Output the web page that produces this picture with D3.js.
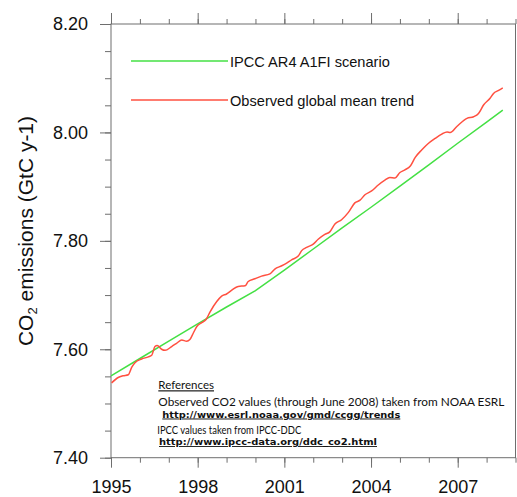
<!DOCTYPE html>
<html>
<head>
<meta charset="utf-8">
<script src="https://cdn.jsdelivr.net/npm/d3@7"></script>
<style>
  html, body { margin: 0; padding: 0; background: #fff; }
  svg { display: block; }
</style>
</head>
<body>
<svg id="chart" width="517" height="497"></svg>
<script>
// ---- data ----
const scenarioYears  = [1995, 1996, 1997, 1998, 1999, 2000, 2001, 2002, 2003, 2004, 2005, 2006, 2007, 2008, 2008.56];
const scenarioValues = [7.551, 7.583, 7.615, 7.647, 7.678, 7.708, 7.746, 7.785, 7.824, 7.862, 7.901, 7.940, 7.980, 8.019, 8.041];

const observedYears = [
  1995.02, 1995.25, 1995.42, 1995.60, 1995.72, 1995.83, 1996.06, 1996.29, 1996.41, 1996.52,
  1996.60, 1996.75, 1996.87, 1997.10, 1997.27, 1997.45, 1997.62, 1997.73, 1997.85, 1997.97,
  1998.14, 1998.29, 1998.43, 1998.66, 1998.83, 1999.00, 1999.18, 1999.40, 1999.64, 1999.75,
  1999.98, 2000.21, 2000.50, 2000.67, 2000.91, 2001.08, 2001.25, 2001.48, 2001.60, 2001.77,
  2002.00, 2002.17, 2002.40, 2002.58, 2002.75, 2002.98, 2003.21, 2003.44, 2003.62, 2003.79,
  2004.02, 2004.25, 2004.48, 2004.65, 2004.83, 2005.00, 2005.17, 2005.36, 2005.53, 2005.76,
  2005.99, 2006.22, 2006.45, 2006.63, 2006.74, 2006.97, 2007.32, 2007.55, 2007.72, 2007.90,
  2008.12, 2008.24, 2008.40, 2008.56
];
const observedValues = [
  7.538, 7.548, 7.551, 7.553, 7.567, 7.575, 7.582, 7.586, 7.589, 7.605,
  7.607, 7.600, 7.598, 7.605, 7.611, 7.617, 7.615, 7.618, 7.630, 7.642,
  7.649, 7.655, 7.669, 7.688, 7.698, 7.702, 7.709, 7.716, 7.717, 7.725,
  7.730, 7.735, 7.739, 7.748, 7.754, 7.759, 7.765, 7.772, 7.782, 7.788,
  7.794, 7.803, 7.812, 7.817, 7.831, 7.839, 7.852, 7.870, 7.875, 7.885,
  7.892, 7.903, 7.912, 7.917, 7.916, 7.926, 7.931, 7.938, 7.954, 7.968,
  7.980, 7.989, 7.997, 8.001, 8.000, 8.011, 8.026, 8.029, 8.035, 8.051,
  8.063, 8.072, 8.077, 8.082
];

const xMajorTicks = [1995, 1998, 2001, 2004, 2007];
const xTickLabels = ["1995", "1998", "2001", "2004", "2007"];
const yMajorTicks = [7.40, 7.60, 7.80, 8.00, 8.20];
const yTickLabels = ["7.40", "7.60", "7.80", "8.00", "8.20"];

const legendLabels = ["IPCC AR4 A1FI scenario", "Observed global mean trend"];
const referenceLines = [
  "References",
  "Observed CO2 values (through June 2008) taken from NOAA ESRL",
  "http://www.esrl.noaa.gov/gmd/ccgg/trends",
  "IPCC values taken from IPCC-DDC",
  "http://www.ipcc-data.org/ddc_co2.html"
];

// ---- layout ----
const svg = d3.select("#chart");
const L = 111, R = 515.5, T = 24, B = 457.7;
const x = d3.scaleLinear().domain([1995, 2009]).range([L, R]);
const y = d3.scaleLinear().domain([7.40, 8.20]).range([B, T]);

svg.append("rect").attr("width", 517).attr("height", 497).attr("fill", "#fff");

const axisColor = "#6e6e6e";
const labelFont = "'Liberation Sans', Arial, Helvetica, sans-serif";

const xMinor = d3.range(1995, 2009.01, 1);
const yMinor = d3.range(7.40, 8.2001, 0.05);

function styleAxis(g) {
  g.select(".domain").remove();
  g.selectAll(".tick line").attr("stroke", axisColor).attr("stroke-width", 1);
}

// bottom axis
svg.append("g").attr("transform", `translate(0,${B})`)
  .call(d3.axisBottom(x).tickValues(xMinor).tickSize(5).tickFormat(""))
  .call(styleAxis);
svg.append("g").attr("transform", `translate(0,${B})`)
  .call(d3.axisBottom(x).tickValues(xMajorTicks).tickSize(10).tickPadding(12.5)
        .tickFormat((d, i) => xTickLabels[i]))
  .call(styleAxis)
  .call(g => g.selectAll("text").attr("font-family", labelFont).attr("font-size", 18).attr("fill", "#111"));
// top axis
svg.append("g").attr("transform", `translate(0,${T})`)
  .call(d3.axisTop(x).tickValues(xMinor).tickSize(5).tickFormat(""))
  .call(styleAxis);
svg.append("g").attr("transform", `translate(0,${T})`)
  .call(d3.axisTop(x).tickValues(xMajorTicks).tickSize(11).tickFormat(""))
  .call(styleAxis);
// left axis
svg.append("g").attr("transform", `translate(${L},0)`)
  .call(d3.axisLeft(y).tickValues(yMinor).tickSize(6).tickFormat(""))
  .call(styleAxis);
svg.append("g").attr("transform", `translate(${L},0)`)
  .call(d3.axisLeft(y).tickValues(yMajorTicks).tickSize(11).tickPadding(12)
        .tickFormat((d, i) => yTickLabels[i]))
  .call(styleAxis)
  .call(g => g.selectAll("text").attr("font-family", labelFont).attr("font-size", 18).attr("fill", "#111"));

// frame
svg.append("rect").attr("x", L).attr("y", T).attr("width", R - L).attr("height", B - T)
  .attr("fill", "none").attr("stroke", axisColor).attr("stroke-width", 1);

// y-axis title
const yt = svg.append("text")
  .attr("transform", `translate(33,231) rotate(-90)`)
  .attr("text-anchor", "middle")
  .attr("font-family", labelFont).attr("font-size", 21).attr("fill", "#111");
yt.append("tspan").text("CO");
yt.append("tspan").text("2").attr("font-size", 13).attr("dy", 4);
yt.append("tspan").text(" emissions (GtC y-1)").attr("dy", -4);

// lines
const greenColor = "#44e044", redColor = "#ff5040";
const line = d3.line().x(d => x(d[0])).y(d => y(d[1]));
const scenario = scenarioYears.map((yr, i) => [yr, scenarioValues[i]]);
const observed = observedYears.map((yr, i) => [yr, observedValues[i]]);

svg.append("path").datum(scenario).attr("d", line)
  .attr("fill", "none").attr("stroke", greenColor).attr("stroke-width", 1.5);
svg.append("path").datum(observed).attr("d", line.curve(d3.curveMonotoneX))
  .attr("fill", "none").attr("stroke", redColor).attr("stroke-width", 1.5);

// legend
const legendColors = [greenColor, redColor];
const legendY = [61, 100];
legendLabels.forEach((lab, i) => {
  svg.append("line").attr("x1", 131).attr("x2", 228).attr("y1", legendY[i]).attr("y2", legendY[i])
    .attr("stroke", legendColors[i]).attr("stroke-width", 1.5);
  svg.append("text").attr("x", 230).attr("y", legendY[i] + 5.5)
    .attr("font-family", labelFont).attr("font-size", 14.6).attr("fill", "#111").text(lab);
});

// references block
const refX = [158.3, 158.3, 162.3, 157.3, 159];
const refY = [389.3, 405.7, 417.5, 433.8, 445];
const refW = [55.7, 346, 238, 144, 218];
const refBold = [false, false, true, false, true];
const refUnder = [true, false, true, false, true];
const refSize = [11.5, 11.5, 9.5, 11.5, 9];
const refFont = "Lato, 'Open Sans', sans-serif";
referenceLines.forEach((t, i) => {
  svg.append("text").attr("x", refX[i]).attr("y", refY[i])
    .attr("font-family", refBold[i] ? "'DejaVu Sans', Verdana, sans-serif" : refFont)
    .attr("font-size", refSize[i])
    .attr("font-weight", refBold[i] ? "bold" : "normal")
    .attr("fill", "#111")
    .attr("textLength", refW[i]).attr("lengthAdjust", "spacingAndGlyphs")
    .attr("text-decoration", refUnder[i] ? "underline" : null)
    .text(t);
});
</script>
</body>
</html>
